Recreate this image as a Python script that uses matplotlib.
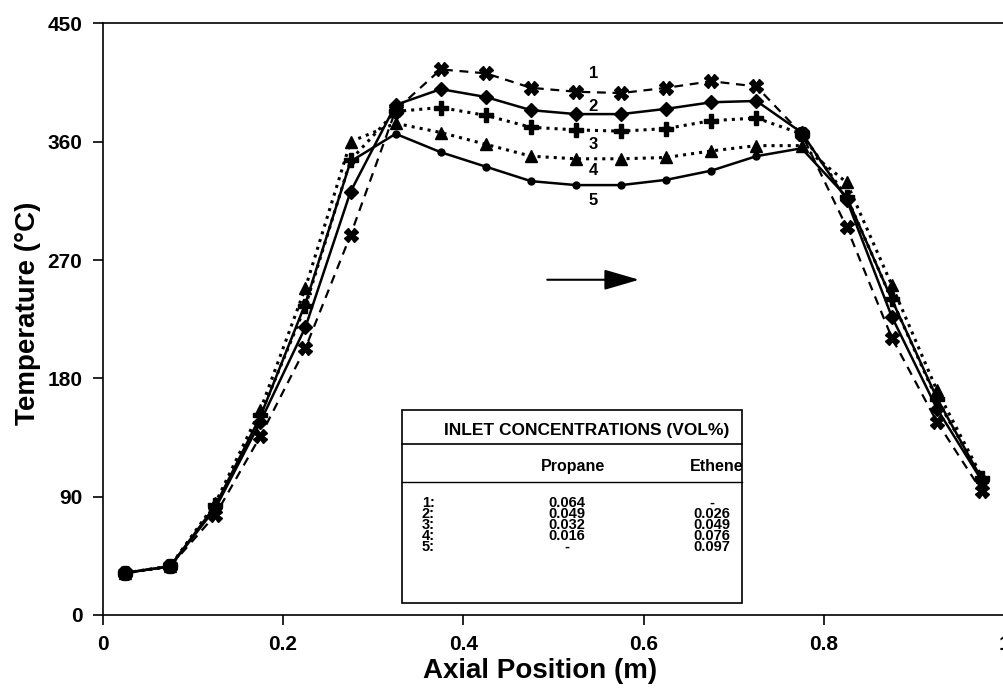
import numpy as np
import matplotlib
matplotlib.use('Agg')
import matplotlib.pyplot as plt
from matplotlib.patches import Rectangle

plt.rcParams['font.family'] = ['Liberation Sans', 'DejaVu Sans']
plt.rcParams['font.weight'] = 'bold'

# axial positions of the thermocouples (m)
pos = [0.025, 0.075, 0.125, 0.175, 0.225, 0.275, 0.325, 0.375, 0.425, 0.475,
       0.525, 0.575, 0.625, 0.675, 0.725, 0.775, 0.825, 0.875, 0.925, 0.975]

# temperature profiles (C)
t1 = [32, 37, 76, 136, 203, 289, 384, 415, 412, 401, 398, 397, 401, 406, 402, 366, 295, 211, 147, 94]
t2 = [32, 37, 81, 147, 219, 322, 388, 400, 394, 384, 381, 381, 385, 390, 391, 367, 316, 227, 157, 102]
t3 = [32, 37, 84, 152, 235, 346, 383, 386, 380, 371, 369, 368, 370, 376, 378, 366, 318, 240, 164, 104]
t4 = [32, 37, 85, 156, 249, 360, 374, 367, 358, 349, 347, 347, 348, 353, 357, 357, 329, 251, 171, 105]
t5 = [32, 37, 83, 151, 237, 345, 366, 352, 341, 330, 327, 327, 331, 338, 349, 355, 318, 240, 165, 103]

row_ids = ['1:', '2:', '3:', '4:', '5:']
propane = ['0.064', '0.049', '0.032', '0.016', '-']
ethene = ['-', '0.026', '0.049', '0.076', '0.097']

xticks = [0, 0.2, 0.4, 0.6, 0.8, 1]
xticklabels = ['0', '0.2', '0.4', '0.6', '0.8', '1']
yticks = [0, 90, 180, 270, 360, 450]

fig = plt.figure(figsize=(10.04, 6.96), dpi=100)
ax = fig.add_axes((0.1021, 0.1164, 0.8984, 0.850))

ax.plot(pos, t1, ls='--', lw=1.6, color='k', marker='X', ms=10, dashes=(4, 3))
ax.plot(pos, t2, ls='-', lw=1.8, color='k', marker='D', ms=7)
ax.plot(pos, t3, ls=':', lw=2.2, color='k', marker='P', ms=10)
ax.plot(pos, t4, ls=':', lw=2.2, color='k', marker='^', ms=9)
ax.plot(pos, t5, ls='-', lw=1.8, color='k', marker='o', ms=5)

# curve numbers
for lab, yy in zip(['1', '2', '3', '4', '5'], [412, 387, 358, 338, 315]):
    ax.text(0.544, yy, lab, ha='center', va='center', fontsize=12, fontweight='bold')

# flow direction arrow
ax.annotate('', xy=(0.598, 255), xytext=(0.49, 255),
            arrowprops=dict(arrowstyle='-|>,head_length=1.2,head_width=0.35',
                            mutation_scale=18, lw=1.5, color='k'))

# inlet concentration table
bx0, bx1, by0, by1 = 0.332, 0.709, 9, 156
ax.add_patch(Rectangle((bx0, by0), bx1 - bx0, by1 - by0, fill=True, fc='white',
                       ec='k', lw=1.2, zorder=5))
ax.plot([bx0, bx1], [130, 130], color='k', lw=1.2, zorder=6)
ax.plot([bx0, bx1], [101.5, 101.5], color='k', lw=1.0, zorder=6)
ax.text(0.537, 140.5, 'INLET CONCENTRATIONS (VOL%)', ha='center', va='center',
        fontsize=12.5, fontweight='bold', zorder=7)
ax.text(0.522, 113, 'Propane', ha='center', va='center', fontsize=11.5, fontweight='bold', zorder=7)
ax.text(0.681, 113, 'Ethene', ha='center', va='center', fontsize=11.5, fontweight='bold', zorder=7)
# one text block per column, tight line spacing as in the original table
tkw = dict(va='center', fontsize=10.5, fontweight='bold', linespacing=0.72, zorder=7)
ax.text(0.354, 68.7, '\n'.join(row_ids), ha='left', multialignment='left', **tkw)
ax.text(0.515, 68.7, '\n'.join(propane), ha='center', multialignment='center', **tkw)
ax.text(0.676, 68.7, '\n'.join(ethene), ha='center', multialignment='center', **tkw)

ax.set_xlim(0, 1)
ax.set_ylim(0, 450)
ax.set_xticks(xticks)
ax.set_xticklabels(xticklabels)
ax.set_yticks(yticks)
ax.tick_params(direction='out', length=7.5, width=1.2, labelsize=15, pad=7)
for lab in ax.get_xticklabels() + ax.get_yticklabels():
    lab.set_fontweight('bold')
ax.spines['right'].set_visible(False)
for s in ['left', 'bottom', 'top']:
    ax.spines[s].set_linewidth(1.2)

ax.set_xlabel('Axial Position (m)', fontsize=20, fontweight='bold')
ax.set_ylabel('Temperature (°C)', fontsize=20, fontweight='bold')
ax.xaxis.set_label_coords(0.485, -0.072)
ax.yaxis.set_label_coords(-0.068, 0.51)

fig.savefig('out.png', dpi=100)
